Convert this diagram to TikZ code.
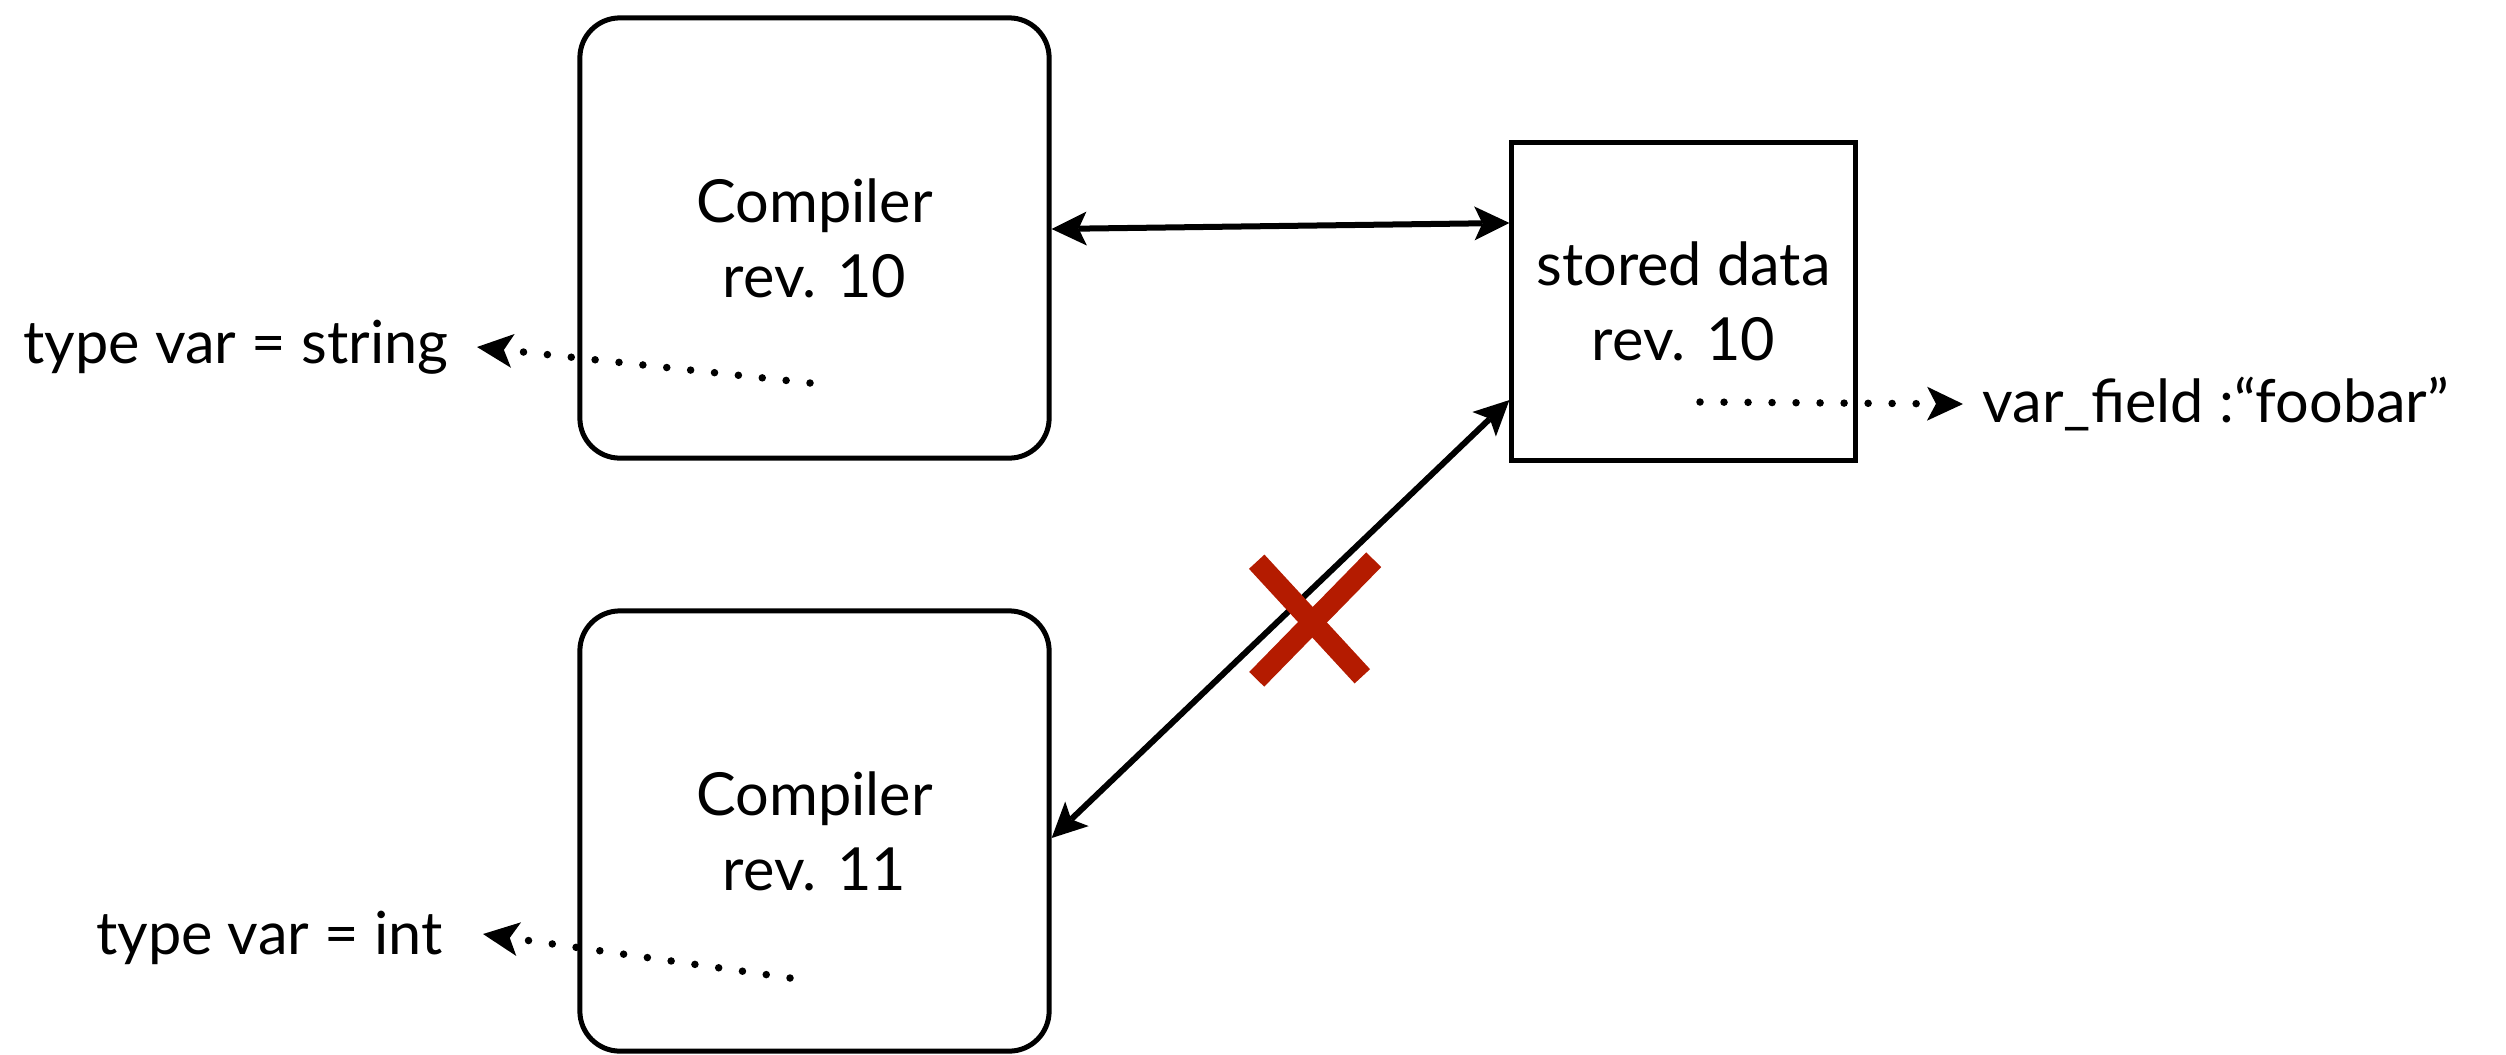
\documentclass[tikz,border=0pt]{standalone}
\usepackage{fontspec}
\setmainfont{Lato}
\usetikzlibrary{arrows.meta,calc}
\definecolor{crossred}{RGB}{180,27,0}
\begin{document}
\begin{tikzpicture}[x=0.01cm,y=-0.01cm,
  every node/.style={font=\fontsize{16.9pt}{21.3pt}\selectfont},
  compbox/.style={draw, line width=0.05cm, rounded corners=0.4cm,
    minimum width=4.69cm, minimum height=4.4cm, align=center, inner sep=0pt},
  databox/.style={draw, line width=0.05cm,
    minimum width=3.43cm, minimum height=3.17cm, align=center, inner sep=0pt},
  lab/.style={inner sep=0pt},
  conn/.style={line width=0.06cm,
    {Stealth[length=0.35cm,width=0.34cm,inset=0.08cm,line width=0pt]}-{Stealth[length=0.35cm,width=0.34cm,inset=0.08cm,line width=0pt]}},
  dots/.style={line width=0.075cm, line cap=round, dash pattern=on 0pt off 0.24cm,
    -{Stealth[length=0.36cm,width=0.34cm,inset=0.09cm,line width=0pt]}},
  cross/.style={line width=0.21cm, crossred}]
\useasboundingbox (0,0) rectangle (2506,1054);

% components
\node[compbox] (c10) at (814.5,238) {Compiler\\rev. 10};
\node[compbox] (c11) at (814.5,831) {Compiler\\rev. 11};
\node[databox] (sd) at (1683.5,301.5) {stored data\\rev. 10};

% side annotations
\node[lab, anchor=east] (l10) at (449,347) {type var = string};
\node[lab, anchor=east] (l11) at (443,938) {type var = int};
\node[lab, anchor=west] (lsd) at (1982,404) {var\_field :“foobar”};

% access paths
\draw[conn] ([yshift=0.09cm]c10.east) -- ([yshift=0.785cm]sd.west);
\draw[conn] ([yshift=-0.07cm]c11.east) -- ([yshift=-0.985cm]sd.west);

% interpretations of the stored field
\coordinate (p10) at (810,383);
\coordinate (p11) at (790,978);
\coordinate (psd) at (1700,402);
\draw[dots] (p10) -- ([xshift=0.28cm]l10.east);
\draw[dots] (p11) -- ([xshift=0.4cm,yshift=0.04cm]l11.east);
\draw[dots] (psd) -- ([xshift=-0.19cm]lsd.west);

% incompatible access
\draw[cross] (1256.7,561.7) -- (1362.3,676.3);
\draw[cross] (1373.7,559.7) -- (1256.7,679.3);
\end{tikzpicture}
\end{document}
